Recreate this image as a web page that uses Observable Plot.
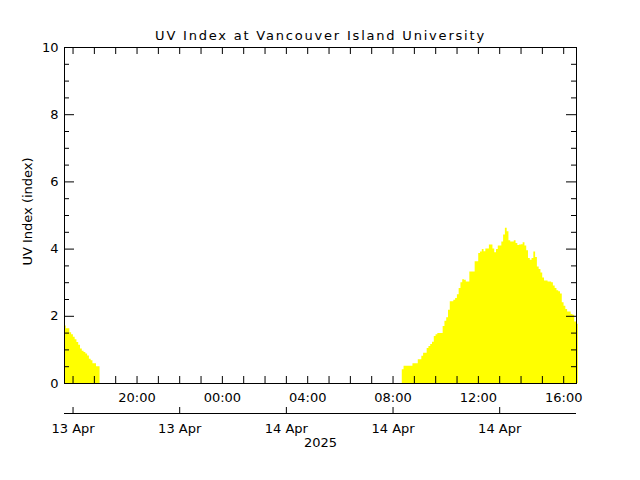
<!DOCTYPE html>
<html><head><meta charset="utf-8">
<script src="https://cdn.jsdelivr.net/npm/d3@7"></script>
<script src="https://cdn.jsdelivr.net/npm/@observablehq/plot@0.6"></script>
<style>body{margin:0;background:#fff}svg{display:block}</style>
</head><body><div id="chart"></div>
<script>
const titleText = "UV Index at Vancouver Island University";
const yLabelText = "UV Index (index)";
const yearText = "2025";
const domainStart = "2025-04-13T16:36";
const domainEnd = "2025-04-14T16:36";
const sampleMinutes = 5;
const eveningStart = "2025-04-13T16:36";
const eveningUV = [1.71,1.63,1.63,1.51,1.45,1.38,1.30,1.22,1.14,1.03,0.96,0.92,0.88,0.82,0.72,0.68,0.59,0.59,0.50,0.50];
const dayStart = "2025-04-14T08:26";
const dayUV = [
0.41,0.51,0.51,0.51,0.51,0.51,0.59,0.59,0.59,0.71,
0.71,0.81,0.90,0.90,1.04,1.10,1.16,1.23,1.40,1.45,
1.49,1.49,1.49,1.70,1.85,1.96,2.18,2.43,2.43,2.48,
2.53,2.64,2.83,3.00,3.09,3.07,3.02,3.02,3.32,3.32,
3.32,3.62,3.62,3.87,3.91,3.99,3.92,4.00,4.00,4.12,
4.12,4.00,3.89,3.99,4.09,4.09,4.21,4.42,4.62,4.52,
4.25,4.21,4.21,4.25,4.17,4.11,4.12,4.13,4.19,4.09,
3.95,3.72,3.67,3.72,3.91,3.75,3.47,3.39,3.29,3.14,
3.05,3.05,3.02,3.02,3.00,2.90,2.83,2.76,2.73,2.66,
2.40,2.30,2.20,2.13,2.13,2.05,2.03,1.83,1.76];
const yMajorTicks = [0,2,4,6,8,10];
const yMinorTicks = [0.5,1,1.5,2.5,3,3.5,4.5,5,5.5,6.5,7,7.5,8.5,9,9.5];
const hourLabelTimes = ["2025-04-13T20:00","2025-04-14T00:00","2025-04-14T04:00","2025-04-14T08:00","2025-04-14T12:00","2025-04-14T16:00"];
const hourLabels = ["20:00","00:00","04:00","08:00","12:00","16:00"];
const dateTickTimes = ["2025-04-13T17:00","2025-04-13T22:00","2025-04-14T03:00","2025-04-14T08:00","2025-04-14T13:00"];
const dateLabels = ["13 Apr","13 Apr","14 Apr","14 Apr","14 Apr"];

const parse = s => new Date(s);
const series = (start, vals) => {
  const t0 = parse(start);
  const rows = vals.map((v, i) => ({time: d3.timeMinute.offset(t0, i * sampleMinutes), uv: v}));
  rows.push({time: d3.timeMinute.offset(t0, vals.length * sampleMinutes), uv: vals[vals.length - 1]});
  return rows;
};
const evening = series(eveningStart, eveningUV);
const day = series(dayStart, dayUV);
const hourTicks = d3.timeHour.range(parse(domainStart), parse(domainEnd));
const hourLabelData = hourLabelTimes.map((t, i) => ({time: parse(t), label: hourLabels[i]}));
const dateData = dateTickTimes.map((t, i) => ({time: parse(t), label: dateLabels[i]}));

const W = 640, H = 480, mL = 64, mR = 64, mT = 47, mB = 97;
const fw = W - mL - mR, fh = H - mT - mB;
const font = "DejaVu Sans";
const txt = {fontSize: 13, fill: "#000", lineAnchor: "middle"};

const chart = Plot.plot({
  width: W, height: H,
  marginLeft: mL, marginRight: mR, marginTop: mT, marginBottom: mB,
  style: {fontFamily: font, fontSize: "13px", background: "#fff", color: "#000"},
  x: {type: "time", domain: [parse(domainStart), parse(domainEnd)], axis: null},
  y: {domain: [0, 10], axis: null},
  marks: [
    Plot.areaY(evening, {x: "time", y: "uv", curve: "step-after", fill: "#ffff00"}),
    Plot.areaY(day, {x: "time", y: "uv", curve: "step-after", fill: "#ffff00"}),
    Plot.frame({stroke: "#000"}),
    Plot.tickY(yMajorTicks, {y: d => d, insetRight: fw - 10, stroke: "#000"}),
    Plot.tickY(yMajorTicks, {y: d => d, insetLeft: fw - 10, stroke: "#000"}),
    Plot.tickY(yMinorTicks, {y: d => d, insetRight: fw - 5, stroke: "#000"}),
    Plot.tickY(yMinorTicks, {y: d => d, insetLeft: fw - 5, stroke: "#000"}),
    Plot.tickX(hourTicks, {x: d => d, insetTop: fh - 7, stroke: "#000"}),
    Plot.tickX(hourTicks, {x: d => d, insetBottom: fh - 7, stroke: "#000"}),
    Plot.ruleY([0], {dy: 30, stroke: "#000"}),
    Plot.tickX(dateData, {x: "time", insetTop: fh - 6, dy: 30, stroke: "#000"}),
    Plot.text(yMajorTicks, {y: d => d, text: d => String(d), frameAnchor: "left", textAnchor: "end", dx: -6, ...txt}),
    Plot.text(hourLabelData, {x: "time", text: "label", frameAnchor: "bottom", dy: 14, ...txt}),
    Plot.text(dateData, {x: "time", text: "label", frameAnchor: "bottom", dy: 45, ...txt}),
    Plot.text([yearText], {text: d => d, frameAnchor: "bottom", dy: 59, ...txt}),
    Plot.text([titleText], {text: d => d, frameAnchor: "top", dy: -12, textAnchor: "middle", ...txt}),
    Plot.text([yLabelText], {text: d => d, frameAnchor: "left", rotate: -90, textAnchor: "middle", dx: -37, dy: -4, ...txt})
  ]
});
d3.select(chart).selectAll("text")
  .filter(function() { return this.textContent === titleText; })
  .attr("letter-spacing", "1.8px");
document.getElementById("chart").appendChild(chart);
</script>
</body></html>
